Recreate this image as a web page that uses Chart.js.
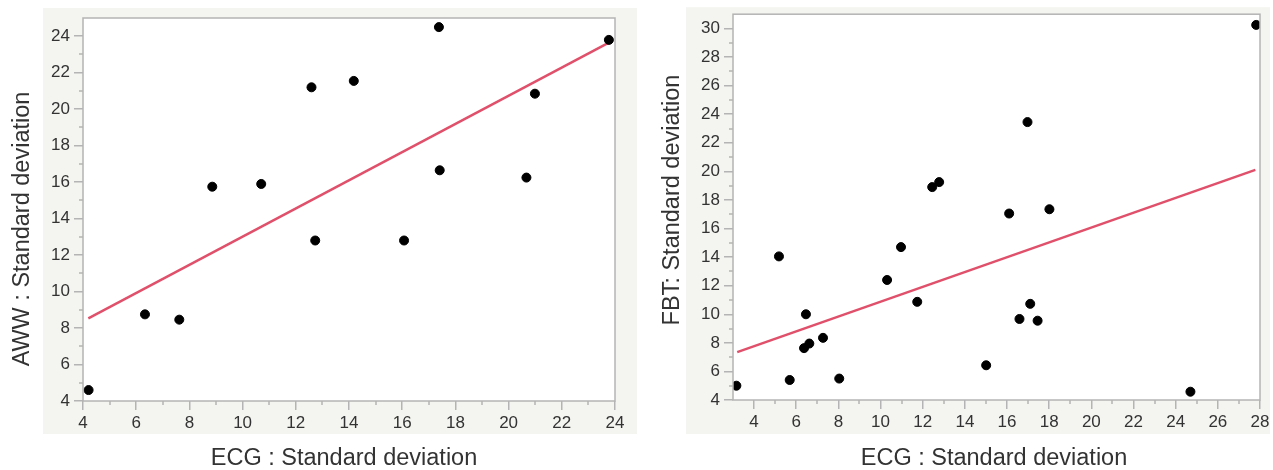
<!DOCTYPE html>
<html>
<head>
<meta charset="utf-8">
<script src="https://cdn.jsdelivr.net/npm/chart.js@4.4.1/dist/chart.umd.min.js"></script>
<style>
  body { margin: 0; background: #fff; }
  canvas { position: absolute; top: 0; }
  #awwChart { left: 0; }
  #fbtChart { left: 640px; }
</style>
</head>
<body>
<canvas id="awwChart" width="645" height="470"></canvas>
<canvas id="fbtChart" width="633" height="470"></canvas>
<script>
// AWW vs ECG (standard deviations)
const awwEcgSd = [4.21, 6.33, 7.62, 8.86, 10.70, 12.59, 12.73, 14.18, 16.07, 17.38, 17.41, 20.67, 20.99, 23.77];
const awwSd = [4.6, 8.75, 8.46, 15.75, 15.9, 21.2, 12.8, 21.55, 12.8, 24.5, 16.65, 16.25, 20.85, 23.8];
const awwFitX = [4.2, 23.77];
const awwFitY = [8.53, 23.65];
const awwXTicks = [4, 6, 8, 10, 12, 14, 16, 18, 20, 22, 24];
const awwYTicks = [4, 6, 8, 10, 12, 14, 16, 18, 20, 22, 24];

// FBT vs ECG (standard deviations)
const fbtEcgSd = [3.16, 5.18, 5.69, 6.37, 6.46, 6.62, 7.27, 8.04, 10.31, 10.97, 11.74, 12.45, 12.78, 15.01, 16.10, 16.59, 16.97, 17.10, 17.45, 18.01, 24.70, 27.82];
const fbtSd = [5.0, 14.05, 5.4, 7.63, 10.0, 7.95, 8.35, 5.5, 12.4, 14.7, 10.87, 18.9, 19.25, 6.43, 17.05, 9.67, 23.45, 10.73, 9.55, 17.35, 4.58, 30.25];
const fbtFitX = [3.2, 27.78];
const fbtFitY = [7.35, 20.11];
const fbtXTicks = [4, 6, 8, 10, 12, 14, 16, 18, 20, 22, 24, 26, 28];
const fbtYTicks = [4, 6, 8, 10, 12, 14, 16, 18, 20, 22, 24, 26, 28, 30];

const FONT = '"Liberation Sans", Arial, sans-serif';
const frameColor = '#b4b4b4';
const textColor = '#333';

const toPoints = (xs, ys) => xs.map((x, i) => ({ x, y: ys[i] }));

// gray panel, frame, minor ticks and axis titles
const panelPlugin = {
  id: 'panel',
  beforeDraw(chart, args, o) {
    const { ctx, chartArea: a } = chart;
    ctx.save();
    ctx.fillStyle = '#f4f4f0';
    ctx.fillRect(a.left - o.pad[0], a.top - o.pad[1], a.width + o.pad[0] + o.pad[2], a.height + o.pad[1] + o.pad[3]);
    ctx.fillStyle = '#fff';
    ctx.fillRect(a.left, a.top, a.width, a.height);
    ctx.restore();
  },
  afterDraw(chart, args, o) {
    const { ctx, chartArea: a, scales } = chart;
    ctx.save();
    ctx.strokeStyle = frameColor;
    ctx.lineWidth = 1.5;
    ctx.strokeRect(a.left, a.top, a.width, a.height);

    ctx.beginPath();
    scales.x.ticks.forEach(t => {
      const v = t.value + 1;
      if (v < scales.x.max) {
        const px = Math.round(scales.x.getPixelForValue(v));
        ctx.moveTo(px, a.bottom);
        ctx.lineTo(px, a.bottom + 4);
      }
    });
    scales.y.ticks.forEach(t => {
      const v = t.value + 1;
      if (v < scales.y.max) {
        const py = Math.round(scales.y.getPixelForValue(v));
        ctx.moveTo(a.left, py);
        ctx.lineTo(a.left - 4, py);
      }
    });
    ctx.stroke();

    ctx.fillStyle = textColor;
    ctx.font = '23.5px ' + FONT;
    ctx.textAlign = 'center';
    ctx.textBaseline = 'alphabetic';
    ctx.fillText(o.xTitle, o.xTitlePos[0], o.xTitlePos[1]);
    ctx.translate(o.yTitlePos[0], o.yTitlePos[1]);
    ctx.rotate(-Math.PI / 2);
    ctx.fillText(o.yTitle, 0, 0);
    ctx.restore();
  }
};

function axis(min, max, tickVals, size, horizontal) {
  return {
    type: 'linear',
    min, max,
    afterBuildTicks: s => { s.ticks = tickVals.map(v => ({ value: v })); },
    afterFit: s => { if (horizontal) s.height = size; else s.width = size; },
    border: { display: false },
    grid: { drawOnChartArea: false, drawTicks: true, tickLength: 9, color: frameColor, lineWidth: 1.5 },
    ticks: { color: textColor, font: { family: FONT, size: 17 }, padding: horizontal ? 3 : 4, maxRotation: 0, autoSkip: false }
  };
}

function makeChart(id, xs, ys, fitX, fitY, cfg) {
  return new Chart(document.getElementById(id), {
    type: 'scatter',
    data: {
      datasets: [
        {
          data: toPoints(xs, ys),
          backgroundColor: '#000',
          borderColor: '#000',
          pointRadius: 4.5,
          pointHoverRadius: 4.5
        },
        {
          type: 'line',
          data: toPoints(fitX, fitY),
          borderColor: '#e0506a',
          borderWidth: 2.5,
          pointRadius: 0,
          fill: false
        }
      ]
    },
    options: {
      responsive: false,
      animation: false,
      layout: { padding: cfg.padding },
      plugins: {
        legend: { display: false },
        tooltip: { enabled: false },
        panel: cfg.panel
      },
      scales: {
        x: axis(cfg.x[0], cfg.x[1], cfg.xTicks, cfg.xSize, true),
        y: axis(cfg.y[0], cfg.y[1], cfg.yTicks, cfg.ySize, false)
      }
    },
    plugins: [panelPlugin]
  });
}

makeChart('awwChart', awwEcgSd, awwSd, awwFitX, awwFitY, {
  padding: { top: 18, right: 30, left: 0, bottom: 0 },
  x: [4, 24], y: [4, 25],
  xTicks: awwXTicks, yTicks: awwYTicks,
  xSize: 69, ySize: 83,
  panel: {
    pad: [40, 10, 22, 33],
    xTitle: 'ECG : Standard deviation', xTitlePos: [344, 465],
    yTitle: 'AWW : Standard deviation', yTitlePos: [28.5, 229]
  }
});

makeChart('fbtChart', fbtEcgSd, fbtSd, fbtFitX, fbtFitY, {
  padding: { top: 10, right: 13, left: 0, bottom: 0 },
  x: [3, 28], y: [4, 31],
  xTicks: fbtXTicks, yTicks: fbtYTicks,
  xSize: 70, ySize: 93,
  panel: {
    pad: [47, 7, 10, 34],
    xTitle: 'ECG : Standard deviation', xTitlePos: [354, 465],
    yTitle: 'FBT: Standard deviation', yTitlePos: [38.5, 200]
  }
});
</script>
</body>
</html>
